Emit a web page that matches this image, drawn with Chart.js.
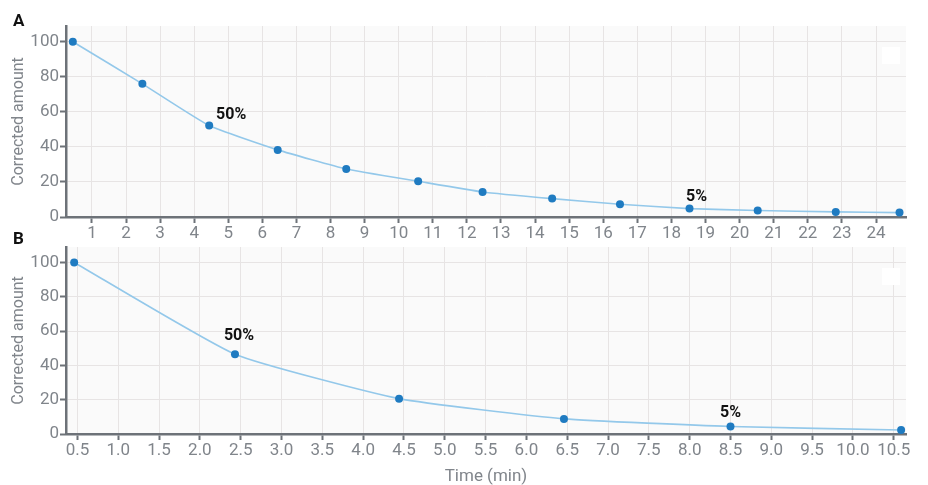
<!DOCTYPE html>
<html>
<head>
<meta charset="utf-8">
<script src="https://cdn.jsdelivr.net/npm/chart.js@4/dist/chart.umd.min.js"></script>
<style>
  html, body { margin: 0; padding: 0; background: #ffffff; }
  #wrap { position: relative; width: 928px; height: 485px; overflow: hidden; }
  .panel { position: absolute; left: 0; }
  .tag { position: absolute; font-family: Roboto, sans-serif; font-weight: bold; font-size: 17px; color: #111; }
</style>
</head>
<body>
<div id="wrap">
  <canvas id="chartA" class="panel" width="928" height="243" style="top:0px"></canvas>
  <canvas id="chartB" class="panel" width="928" height="242" style="top:243px"></canvas>
  <div class="tag" style="left:13px; top:10px;">A</div>
  <div class="tag" style="left:13px; top:228px;">B</div>
</div>
<script>
// ---- Data ----
const timesA   = [0.44, 2.48, 4.44, 6.45, 8.46, 10.57, 12.46, 14.5, 16.49, 18.53, 20.53, 22.82, 24.69];
const amountsA = [100, 76, 52.2, 38.3, 27.4, 20.4, 14.3, 10.5, 7.3, 4.8, 3.7, 2.9, 2.5];
const timesB   = [0.46, 2.43, 4.44, 6.46, 8.5, 10.59];
const amountsB = [100, 46.5, 20.6, 8.8, 4.4, 2.3];
const yTickStep = 20;
const xTickStepA = 1;
const xTickStepB = 0.5;
const labelsA = [{ index: 2, text: '50%' }, { index: 9, text: '5%' }];
const labelsB = [{ index: 1, text: '50%' }, { index: 4, text: '5%' }];
const yTitle = 'Corrected amount';
const xTitleB = 'Time (min)';

// ---- Styling ----
Chart.defaults.font.family = 'Roboto, sans-serif';
const AXIS = '#6d7278';
const TICKTXT = '#80858b';
const GRID = '#e7e4e4';
const LINE = '#93c8ea';
const POINT = '#1f7bc1';

const bgPlugin = {
  id: 'plotBg',
  beforeDraw(chart) {
    const { ctx, chartArea: a } = chart;
    ctx.save();
    ctx.fillStyle = '#fafafa';
    ctx.fillRect(a.left, a.top, a.right - a.left, a.bottom - a.top);
    ctx.restore();
  },
  afterDraw(chart) {
    const { ctx, chartArea: a } = chart;
    ctx.save();
    ctx.fillStyle = '#ffffff';
    ctx.fillRect(a.right - 24, a.top + 21, 18, 17);
    ctx.restore();
  }
};

const pointLabelPlugin = {
  id: 'pointLabels',
  afterDatasetsDraw(chart, args, opts) {
    const meta = chart.getDatasetMeta(0);
    const ctx = chart.ctx;
    ctx.save();
    ctx.font = 'bold 16px Roboto, sans-serif';
    ctx.fillStyle = '#111111';
    ctx.textAlign = 'center';
    ctx.textBaseline = 'middle';
    (opts.items || []).forEach(it => {
      const el = meta.data[it.index];
      if (!el) return;
      ctx.fillText(it.text, el.x + it.dx, el.y + it.dy);
    });
    ctx.restore();
  }
};

function zeroPad(s) { s.paddingTop = 0; s.paddingBottom = 0; s.paddingLeft = 0; s.paddingRight = 0; }

function makeChart(id, times, amounts, cfg) {
  const pts = times.map((t, i) => ({ x: t, y: amounts[i] }));
  return new Chart(document.getElementById(id), {
    type: 'line',
    data: {
      datasets: [{
        data: pts,
        borderColor: LINE,
        borderWidth: 1.6,
        tension: 0.15,
        pointRadius: 4,
        pointHoverRadius: 4,
        pointBackgroundColor: POINT,
        pointBorderColor: POINT,
        pointBorderWidth: 0,
        clip: false
      }]
    },
    options: {
      responsive: false,
      animation: false,
      devicePixelRatio: 1,
      layout: { padding: cfg.padding },
      plugins: {
        legend: { display: false },
        tooltip: { enabled: false },
        pointLabels: { items: cfg.labels }
      },
      scales: {
        x: {
          type: 'linear',
          min: cfg.xmin,
          max: cfg.xmax,
          afterFit: s => { s.height = cfg.xHeight; zeroPad(s); },
          border: { color: AXIS, width: 2.5 },
          grid: { color: GRID, lineWidth: 1, tickLength: 6, tickColor: AXIS, tickWidth: 2 },
          ticks: {
            stepSize: cfg.xStep,
            includeBounds: false,
            color: TICKTXT,
            font: { size: 17 },
            padding: 1,
            maxRotation: 0,
            autoSkip: false,
            callback: cfg.xFmt
          },
          title: cfg.xTitle ? {
            display: true, text: cfg.xTitle, color: TICKTXT,
            font: { size: 17, lineHeight: 1 }, padding: { top: 0, bottom: 0 }
          } : { display: false }
        },
        y: {
          min: 0,
          max: 109,
          afterFit: s => { s.width = 66; zeroPad(s); },
          border: { color: AXIS, width: 2.5 },
          grid: { color: GRID, lineWidth: 1, tickLength: 6, tickColor: AXIS, tickWidth: 2 },
          ticks: {
            stepSize: yTickStep,
            includeBounds: false,
            color: TICKTXT,
            font: { size: 17 },
            padding: 1
          },
          title: {
            display: true, text: yTitle, color: TICKTXT,
            font: { size: 16, lineHeight: 1.2 }, padding: { top: 9, bottom: 0 }
          }
        }
      }
    },
    plugins: [bgPlugin, pointLabelPlugin]
  });
}

makeChart('chartA', timesA, amountsA, {
  padding: { top: 26, right: 22, left: 0, bottom: 0 },
  xmin: 0.24, xmax: 24.88, xStep: xTickStepA, xHeight: 26,
  xFmt: v => String(v),
  labels: labelsA.map((l, i) => Object.assign({}, l, i === 0 ? { dx: 22, dy: -11 } : { dx: 7, dy: -12 }))
});

makeChart('chartB', timesB, amountsB, {
  padding: { top: 0, right: 22, left: 0, bottom: 0 },
  xmin: 0.36, xmax: 10.65, xStep: xTickStepB, xHeight: 51,
  xFmt: v => Number(v).toFixed(1),
  xTitle: xTitleB,
  labels: labelsB.map((l, i) => Object.assign({}, l, i === 0 ? { dx: 4, dy: -18 } : { dx: 0, dy: -13 }))
});
</script>
</body>
</html>
